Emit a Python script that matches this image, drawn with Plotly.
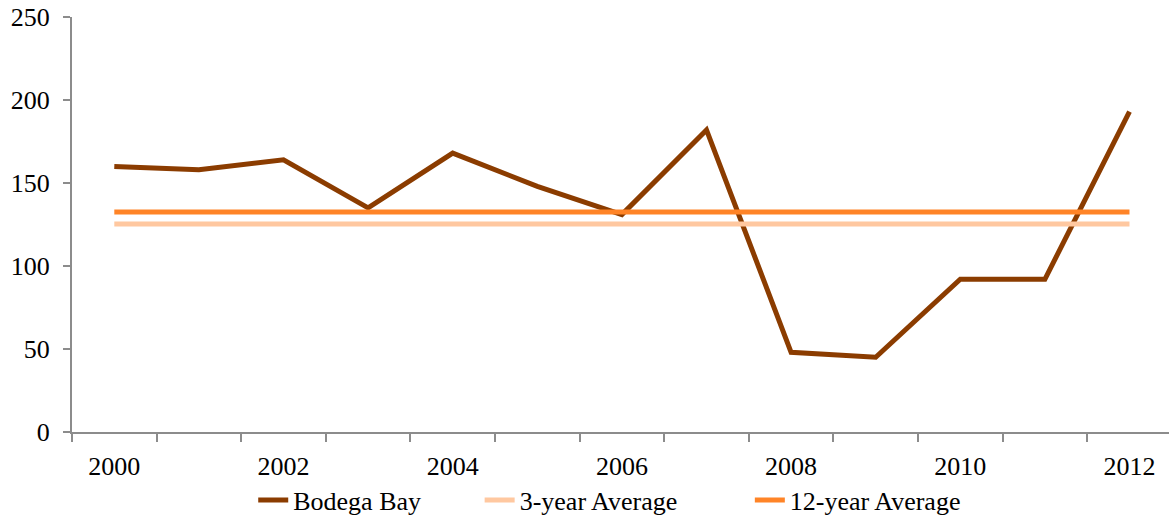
import plotly.graph_objects as go

years = list(range(2000, 2013))
bodega_bay = [160, 158, 164, 135, 168, 148, 131, 182, 48, 45, 92, 92, 193]
avg_3yr = [125.3] * len(years)
avg_12yr = [132.5] * len(years)
x_tick_labels = ["2000", "2002", "2004", "2006", "2008", "2010", "2012"]
y_ticks = [0, 50, 100, 150, 200, 250]

font_family = "Liberation Serif, Times New Roman, serif"
axis_col = "#8c8c8c"

fig = go.Figure()
fig.add_trace(go.Scatter(x=years, y=bodega_bay, name="Bodega Bay", mode="lines",
                         line=dict(color="#8B3C00", width=5), legend="legend"))
fig.add_trace(go.Scatter(x=years, y=avg_3yr, name="3-year Average", mode="lines",
                         line=dict(color="#FFC8A0", width=5), legend="legend2"))
fig.add_trace(go.Scatter(x=years, y=avg_12yr, name="12-year Average", mode="lines",
                         line=dict(color="#FF8427", width=5), legend="legend3"))

leg_common = dict(orientation="h", xanchor="left", y=-0.164, yanchor="middle",
                  font=dict(family=font_family, size=26, color="black"),
                  bgcolor="rgba(0,0,0,0)")

fig.update_layout(
    width=1169, height=516,
    margin=dict(l=72, r=0, t=17, b=84, autoexpand=False),
    paper_bgcolor="white", plot_bgcolor="white",
    font=dict(family=font_family, size=26, color="black"),
    showlegend=True,
    legend=dict(x=0.1652, **leg_common),
    legend2=dict(x=0.3716, **leg_common),
    legend3=dict(x=0.6179, **leg_common),
)
fig.update_xaxes(
    range=[1999.5, 2012.467], automargin=False,
    tickmode="array",
    tickvals=[int(t) for t in x_tick_labels],
    ticktext=x_tick_labels,
    tickfont=dict(family=font_family, size=26, color="black"),
    ticks="", showgrid=False, zeroline=False,
    showline=True, linecolor=axis_col, linewidth=2,
    ticklabelstandoff=10, ticklabeloverflow="allow",
    minor=dict(tickmode="array", tickvals=[y - 0.5 for y in years],
               ticks="outside", ticklen=8, tickcolor=axis_col, tickwidth=2, showgrid=False),
)
fig.update_yaxes(
    range=[0, 250], automargin=False,
    tickmode="array", tickvals=y_ticks,
    tickfont=dict(family=font_family, size=26, color="black"),
    ticks="outside", ticklen=7, tickcolor=axis_col, tickwidth=2,
    showgrid=False, zeroline=False,
    showline=True, linecolor=axis_col, linewidth=2,
    ticklabelstandoff=8, ticklabeloverflow="allow",
)

fig.write_html("out.html", config={"displayModeBar": False},
               post_script="document.body.style.margin='0';document.body.style.padding='0';")
